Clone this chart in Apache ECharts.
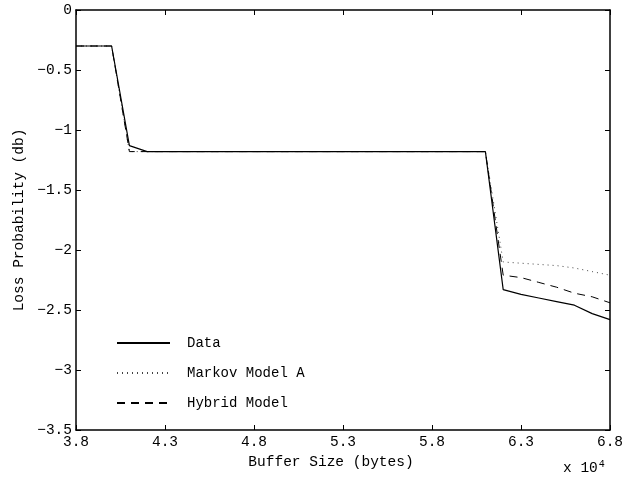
<!DOCTYPE html>
<html>
<head>
<meta charset="utf-8">
<script src="https://cdn.jsdelivr.net/npm/echarts@6/dist/echarts.min.js"></script>
<style>
  html, body { margin: 0; padding: 0; background: #fff; }
  #chart { width: 635px; height: 479px; }
</style>
</head>
<body>
<div id="chart"></div>
<script>
// buffer size in units of 10^4 bytes
const bufferSize = [3.8, 4.0, 4.1, 4.2, 6.1, 6.2, 6.3, 6.4, 6.5, 6.6, 6.7, 6.8]
const lossData = [-0.3, -0.3, -1.13, -1.18, -1.18, -2.33, -2.37, -2.40, -2.43, -2.46, -2.53, -2.58]
const lossMarkov = [-0.3, -0.3, -1.18, -1.18, -1.18, -2.10, -2.11, -2.12, -2.13, -2.15, -2.18, -2.21]
const lossHybrid = [-0.3, -0.3, -1.18, -1.18, -1.18, -2.21, -2.23, -2.27, -2.31, -2.36, -2.39, -2.44]

const font = 'Liberation Mono, DejaVu Sans Mono, monospace'
const pairs = ys => bufferSize.map((x, i) => [x, ys[i]])

const myChart = echarts.init(document.getElementById('chart'))

const axisBase = {
  type: 'value',
  axisLine: { show: true, onZero: false, lineStyle: { color: '#000', width: 1.5 } },
  axisTick: { show: true, inside: true, length: 5, lineStyle: { color: '#000' } },
  splitLine: { show: false }
}

const options = {
  animation: false,
  backgroundColor: '#fff',
  grid: { left: 76, right: 25, top: 10, bottom: 49, containLabel: false },
  legend: {
    orient: 'vertical',
    left: 111,
    top: 331,
    itemWidth: 53,
    itemHeight: 10,
    itemGap: 16,
    itemStyle: { opacity: 0 },
    textStyle: { fontFamily: font, fontSize: 14, color: '#000', padding: [0, 0, 0, 12] },
    data: ['Data', 'Markov Model A', 'Hybrid Model']
  },
  xAxis: [
    Object.assign({}, axisBase, {
      min: 3.8, max: 6.8, interval: 0.5,
      name: 'Buffer Size (bytes)',
      nameLocation: 'middle',
      nameGap: 20,
      nameTextStyle: { fontFamily: font, fontSize: 14.5, color: '#000', padding: [0, 24, 0, 0] },
      axisLabel: { fontFamily: font, fontSize: 14.5, color: '#000', margin: 5 }
    }),
    Object.assign({}, axisBase, {
      position: 'top', min: 3.8, max: 6.8, interval: 0.5,
      axisLabel: { show: false }
    })
  ],
  yAxis: [
    Object.assign({}, axisBase, {
      min: -3.5, max: 0, interval: 0.5,
      name: 'Loss Probability (db)',
      nameLocation: 'middle',
      nameGap: 40,
      nameTextStyle: { fontFamily: font, fontSize: 14.5, color: '#000' },
      axisLabel: {
        fontFamily: font, fontSize: 14.5, color: '#000', margin: 4,
        formatter: v => String(v).replace('-', '\u2212')
      }
    }),
    Object.assign({}, axisBase, {
      position: 'right', min: -3.5, max: 0, interval: 0.5,
      axisLabel: { show: false }
    })
  ],
  graphic: [
    {
      type: 'text',
      left: 563,
      top: 459,
      style: {
        text: 'x 10{sup|4}',
        fontFamily: font,
        fontSize: 14.5,
        fill: '#000',
        rich: { sup: { fontFamily: font, fontSize: 10, verticalAlign: 'top', padding: [0, 0, 8, 1] } }
      }
    }
  ],
  series: [
    {
      name: 'Data', type: 'line', symbol: 'none', z: 3,
      data: pairs(lossData),
      lineStyle: { color: '#000', width: 1.2, type: 'solid' },
      itemStyle: { color: '#000' }
    },
    {
      name: 'Markov Model A', type: 'line', symbol: 'none', z: 2,
      data: pairs(lossMarkov),
      lineStyle: { color: '#444', width: 1, type: [1, 4] },
      itemStyle: { color: '#444' }
    },
    {
      name: 'Hybrid Model', type: 'line', symbol: 'none', z: 2,
      data: pairs(lossHybrid),
      lineStyle: { color: '#000', width: 1, type: [8, 6] },
      itemStyle: { color: '#000' }
    }
  ]
}

myChart.setOption(options)
</script>
</body>
</html>
